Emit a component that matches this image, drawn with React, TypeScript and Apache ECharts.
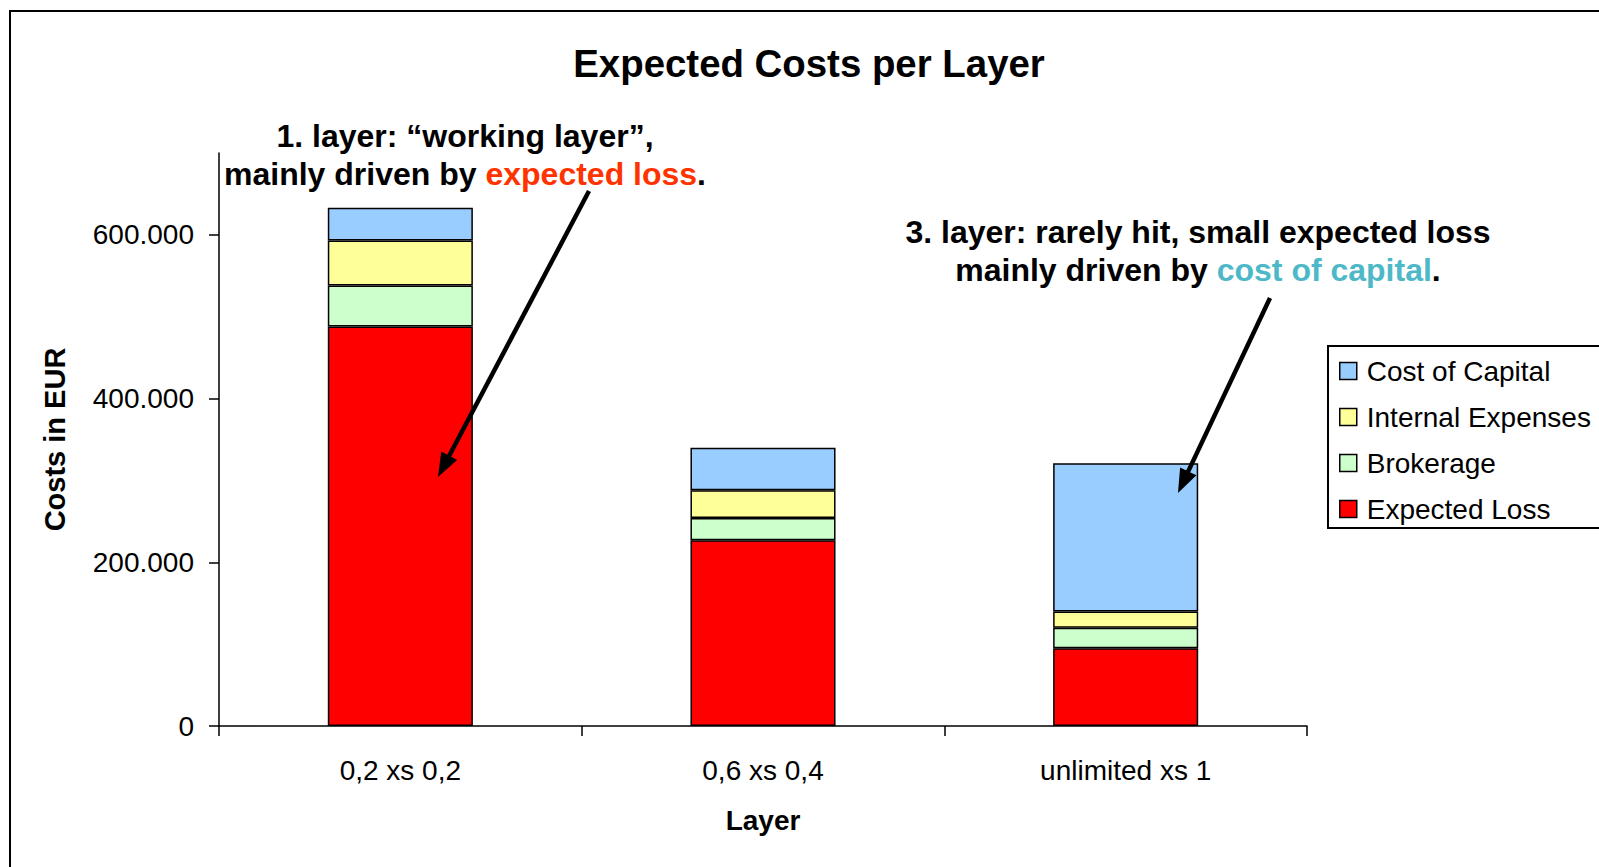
import React, { useEffect, useRef } from "react";
import * as echarts from "echarts";

// Layers (categories on the x axis)
const layers = ["0,2 xs 0,2", "0,6 xs 0,4", "unlimited xs 1"];

// Cost components per layer, in EUR (stacked bottom to top)
const expectedLoss = [488000, 227000, 95000];
const brokerage = [50000, 27000, 25000];
const internalExpenses = [55000, 34000, 20000];
const costOfCapital = [40000, 52000, 181000];

const seriesNames = ["Expected Loss", "Brokerage", "Internal Expenses", "Cost of Capital"];
const seriesColors = ["#FF0000", "#CCFFCC", "#FFFF99", "#99CCFF"];
const legendOrder = ["Cost of Capital", "Internal Expenses", "Brokerage", "Expected Loss"];

const yTicks = [0, 200000, 400000, 600000];
const yMax = 700000;

const FONT = "'Liberation Sans', Arial, Helvetica, sans-serif";

function formatEur(v: number): string {
  return String(Math.round(v)).replace(/\B(?=(\d{3})+(?!\d))/g, ".");
}

// Straight arrow: shaft plus filled triangular head at the tip
function arrow(x1: number, y1: number, x2: number, y2: number) {
  const len = Math.hypot(x2 - x1, y2 - y1);
  const ux = (x2 - x1) / len;
  const uy = (y2 - y1) / len;
  const headLen = 24;
  const headHalf = 9;
  const bx = x2 - ux * headLen;
  const by = y2 - uy * headLen;
  const px = -uy;
  const py = ux;
  return [
    {
      type: "line",
      shape: { x1, y1, x2: bx + ux * 2, y2: by + uy * 2 },
      style: { stroke: "#000", lineWidth: 4.5 },
      z: 10,
    },
    {
      type: "polygon",
      shape: {
        points: [
          [x2, y2],
          [bx + px * headHalf, by + py * headHalf],
          [bx - px * headHalf, by - py * headHalf],
        ],
      },
      style: { fill: "#000" },
      z: 10,
    },
  ];
}

export default function App() {
  const ref = useRef<HTMLDivElement>(null);

  useEffect(() => {
    if (!ref.current) return;
    const chart = echarts.init(ref.current, null, { renderer: "svg" });
    const values = [expectedLoss, brokerage, internalExpenses, costOfCapital];

    const textBold = (x: number, y: number, text: string, size: number, rich?: any) => ({
      type: "text",
      x,
      y,
      style: {
        text,
        fill: "#000",
        font: `bold ${size}px ${FONT}`,
        fontFamily: FONT,
        fontWeight: "bold",
        fontSize: size,
        align: "center",
        verticalAlign: "middle",
        rich,
      },
      z: 10,
    });

    const rich = (color: string) => ({
      b: { fontFamily: FONT, fontWeight: "bold", fontSize: 32, fill: "#000", color: "#000" },
      c: { fontFamily: FONT, fontWeight: "bold", fontSize: 32, fill: color, color },
    });

    chart.setOption({
      animation: false,
      backgroundColor: "#fff",
      textStyle: { fontFamily: FONT },
      grid: { left: 219, right: 292, top: 153, bottom: 141, containLabel: false },
      legend: {
        data: legendOrder,
        orient: "vertical",
        left: 1334,
        top: 352,
        itemWidth: 17,
        itemHeight: 17,
        itemGap: 18,
        icon: "rect",
        itemStyle: { borderColor: "#000", borderWidth: 1.5 },
        textStyle: { fontSize: 28, color: "#000", fontFamily: FONT, padding: [0, 0, 0, 5] },
        selectedMode: false,
      },
      xAxis: {
        type: "category",
        data: layers,
        name: "Layer",
        nameLocation: "middle",
        nameGap: 80,
        nameTextStyle: { fontSize: 28, fontWeight: "bold", color: "#000", fontFamily: FONT },
        axisLine: { lineStyle: { color: "#000", width: 1.5 } },
        axisTick: { show: true, length: 10, lineStyle: { color: "#000", width: 1.5 } },
        axisLabel: { fontSize: 28, color: "#000", margin: 30, fontFamily: FONT },
        splitLine: { show: false },
      },
      yAxis: {
        type: "value",
        min: 0,
        max: yMax,
        interval: 200000,
        name: "Costs in EUR",
        nameLocation: "middle",
        nameGap: 150,
        nameTextStyle: { fontSize: 29, fontWeight: "bold", color: "#000", fontFamily: FONT },
        axisLine: { show: true, lineStyle: { color: "#000", width: 1.5 } },
        axisTick: {
          show: true,
          length: 10,
          customValues: yTicks,
          lineStyle: { color: "#000", width: 1.5 },
        },
        axisLabel: {
          fontSize: 28,
          color: "#000",
          margin: 25,
          fontFamily: FONT,
          customValues: yTicks,
          formatter: (v: number) => formatEur(v),
        },
        splitLine: { show: false },
      },
      series: seriesNames.map((name, i) => ({
        name,
        type: "bar",
        stack: "total",
        barWidth: "40%",
        data: values[i],
        itemStyle: { color: seriesColors[i], borderColor: "#000", borderWidth: 1.5 },
        emphasis: { disabled: true },
      })),
      graphic: [
        // outer frame
        {
          type: "polyline",
          shape: { points: [[10, 900], [10, 11], [1620, 11]] },
          style: { stroke: "#000", lineWidth: 2, fill: null },
        },
        // legend frame
        {
          type: "rect",
          shape: { x: 1328, y: 346, width: 300, height: 182 },
          style: { stroke: "#000", lineWidth: 2, fill: null },
        },
        textBold(809, 63, "Expected Costs per Layer", 38.4),
        textBold(465, 136, "1. layer: \u201cworking layer\u201d,", 32),
        textBold(465, 174, "{b|mainly driven by }{c|expected loss}{b|.}", 32, rich("#FF3300")),
        textBold(1198, 232, "3. layer: rarely hit, small expected loss", 32),
        textBold(1198, 270, "{b|mainly driven by }{c|cost of capital}{b|.}", 32, rich("#4DB8C8")),
        ...arrow(589, 191, 438, 477),
        ...arrow(1270, 298, 1178, 493),
      ],
    });

    return () => chart.dispose();
  }, []);

  return (
    <div
      ref={ref}
      style={{ position: "fixed", left: 0, top: 0, width: 1599, height: 867, background: "#fff" }}
    />
  );
}
